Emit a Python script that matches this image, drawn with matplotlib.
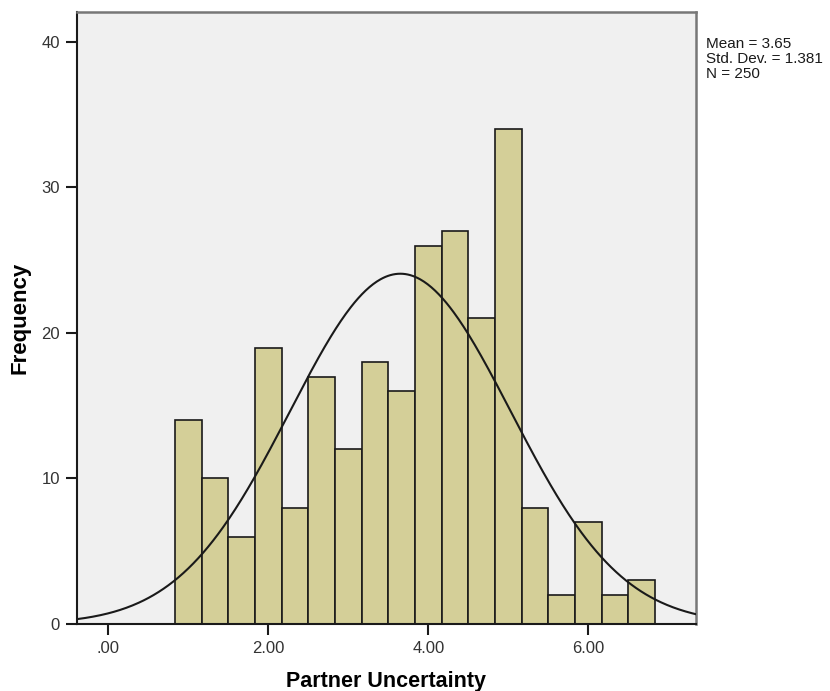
import numpy as np
import matplotlib
matplotlib.use("Agg")
import matplotlib.pyplot as plt

plt.rcParams['font.family'] = ['Liberation Sans', 'DejaVu Sans']

# Data
bin_start = 0.8333
bin_width = 1.0 / 3.0
counts = [14, 10, 6, 19, 8, 17, 12, 18, 16, 26, 27, 21, 34, 8, 2, 7, 2, 3]
mean_val = 3.65
std_val = 1.381
n_val = 250
x_ticks = [0, 2, 4, 6]
x_tick_labels = [".00", "2.00", "4.00", "6.00"]
y_ticks = [0, 10, 20, 30, 40]

fig = plt.figure(figsize=(8.3, 6.91), dpi=100)
ax = fig.add_axes([0.0924, 0.097, 0.838 - 0.0924, 0.9826 - 0.097])
ax.set_facecolor('#F0F0F0')

edges = bin_start + bin_width * np.arange(len(counts) + 1)
ax.bar(edges[:-1], counts, width=bin_width, align='edge',
       color='#D4CF98', edgecolor='#1a1a1a', linewidth=1.2, zorder=2)

xmin, xmax = -0.395, 7.34
xs = np.linspace(xmin, xmax, 500)
pdf = np.exp(-0.5 * ((xs - mean_val) / std_val) ** 2) / (std_val * np.sqrt(2 * np.pi))
ax.plot(xs, n_val * bin_width * pdf, color='#1a1a1a', linewidth=1.5, zorder=3)

ax.set_xlim(xmin, xmax)
ax.set_ylim(0, 42.06)
ax.set_xticks(x_ticks)
ax.set_xticklabels(x_tick_labels)
ax.set_yticks(y_ticks)
ax.tick_params(axis='both', direction='out', length=8, width=1.5,
               labelsize=12, colors='#1a1a1a', labelcolor='#333333', pad=4)

for s in ['left', 'bottom']:
    ax.spines[s].set_color('#1a1a1a')
    ax.spines[s].set_linewidth(1.5)
for s in ['top', 'right']:
    ax.spines[s].set_color('#777777')
    ax.spines[s].set_linewidth(1.8)

ax.set_xlabel('Partner Uncertainty', fontsize=15.5, fontweight='bold')
ax.xaxis.set_label_coords(0.5, -58 / 612, transform=ax.transAxes)
ax.xaxis.label.set_va('center')
ax.set_ylabel('Frequency', fontsize=16, fontweight='bold')
ax.yaxis.set_label_coords(-57 / 619, 0.5, transform=ax.transAxes)
ax.yaxis.label.set_va('center')

fig.text(706 / 830, 1 - 37 / 691,
         f"Mean = {mean_val:.2f}\nStd. Dev. = {std_val:.3f}\nN = {n_val}",
         fontsize=11, va='top', ha='left', linespacing=1.08, color='#1a1a1a')

fig.savefig('out.png', dpi=100)
